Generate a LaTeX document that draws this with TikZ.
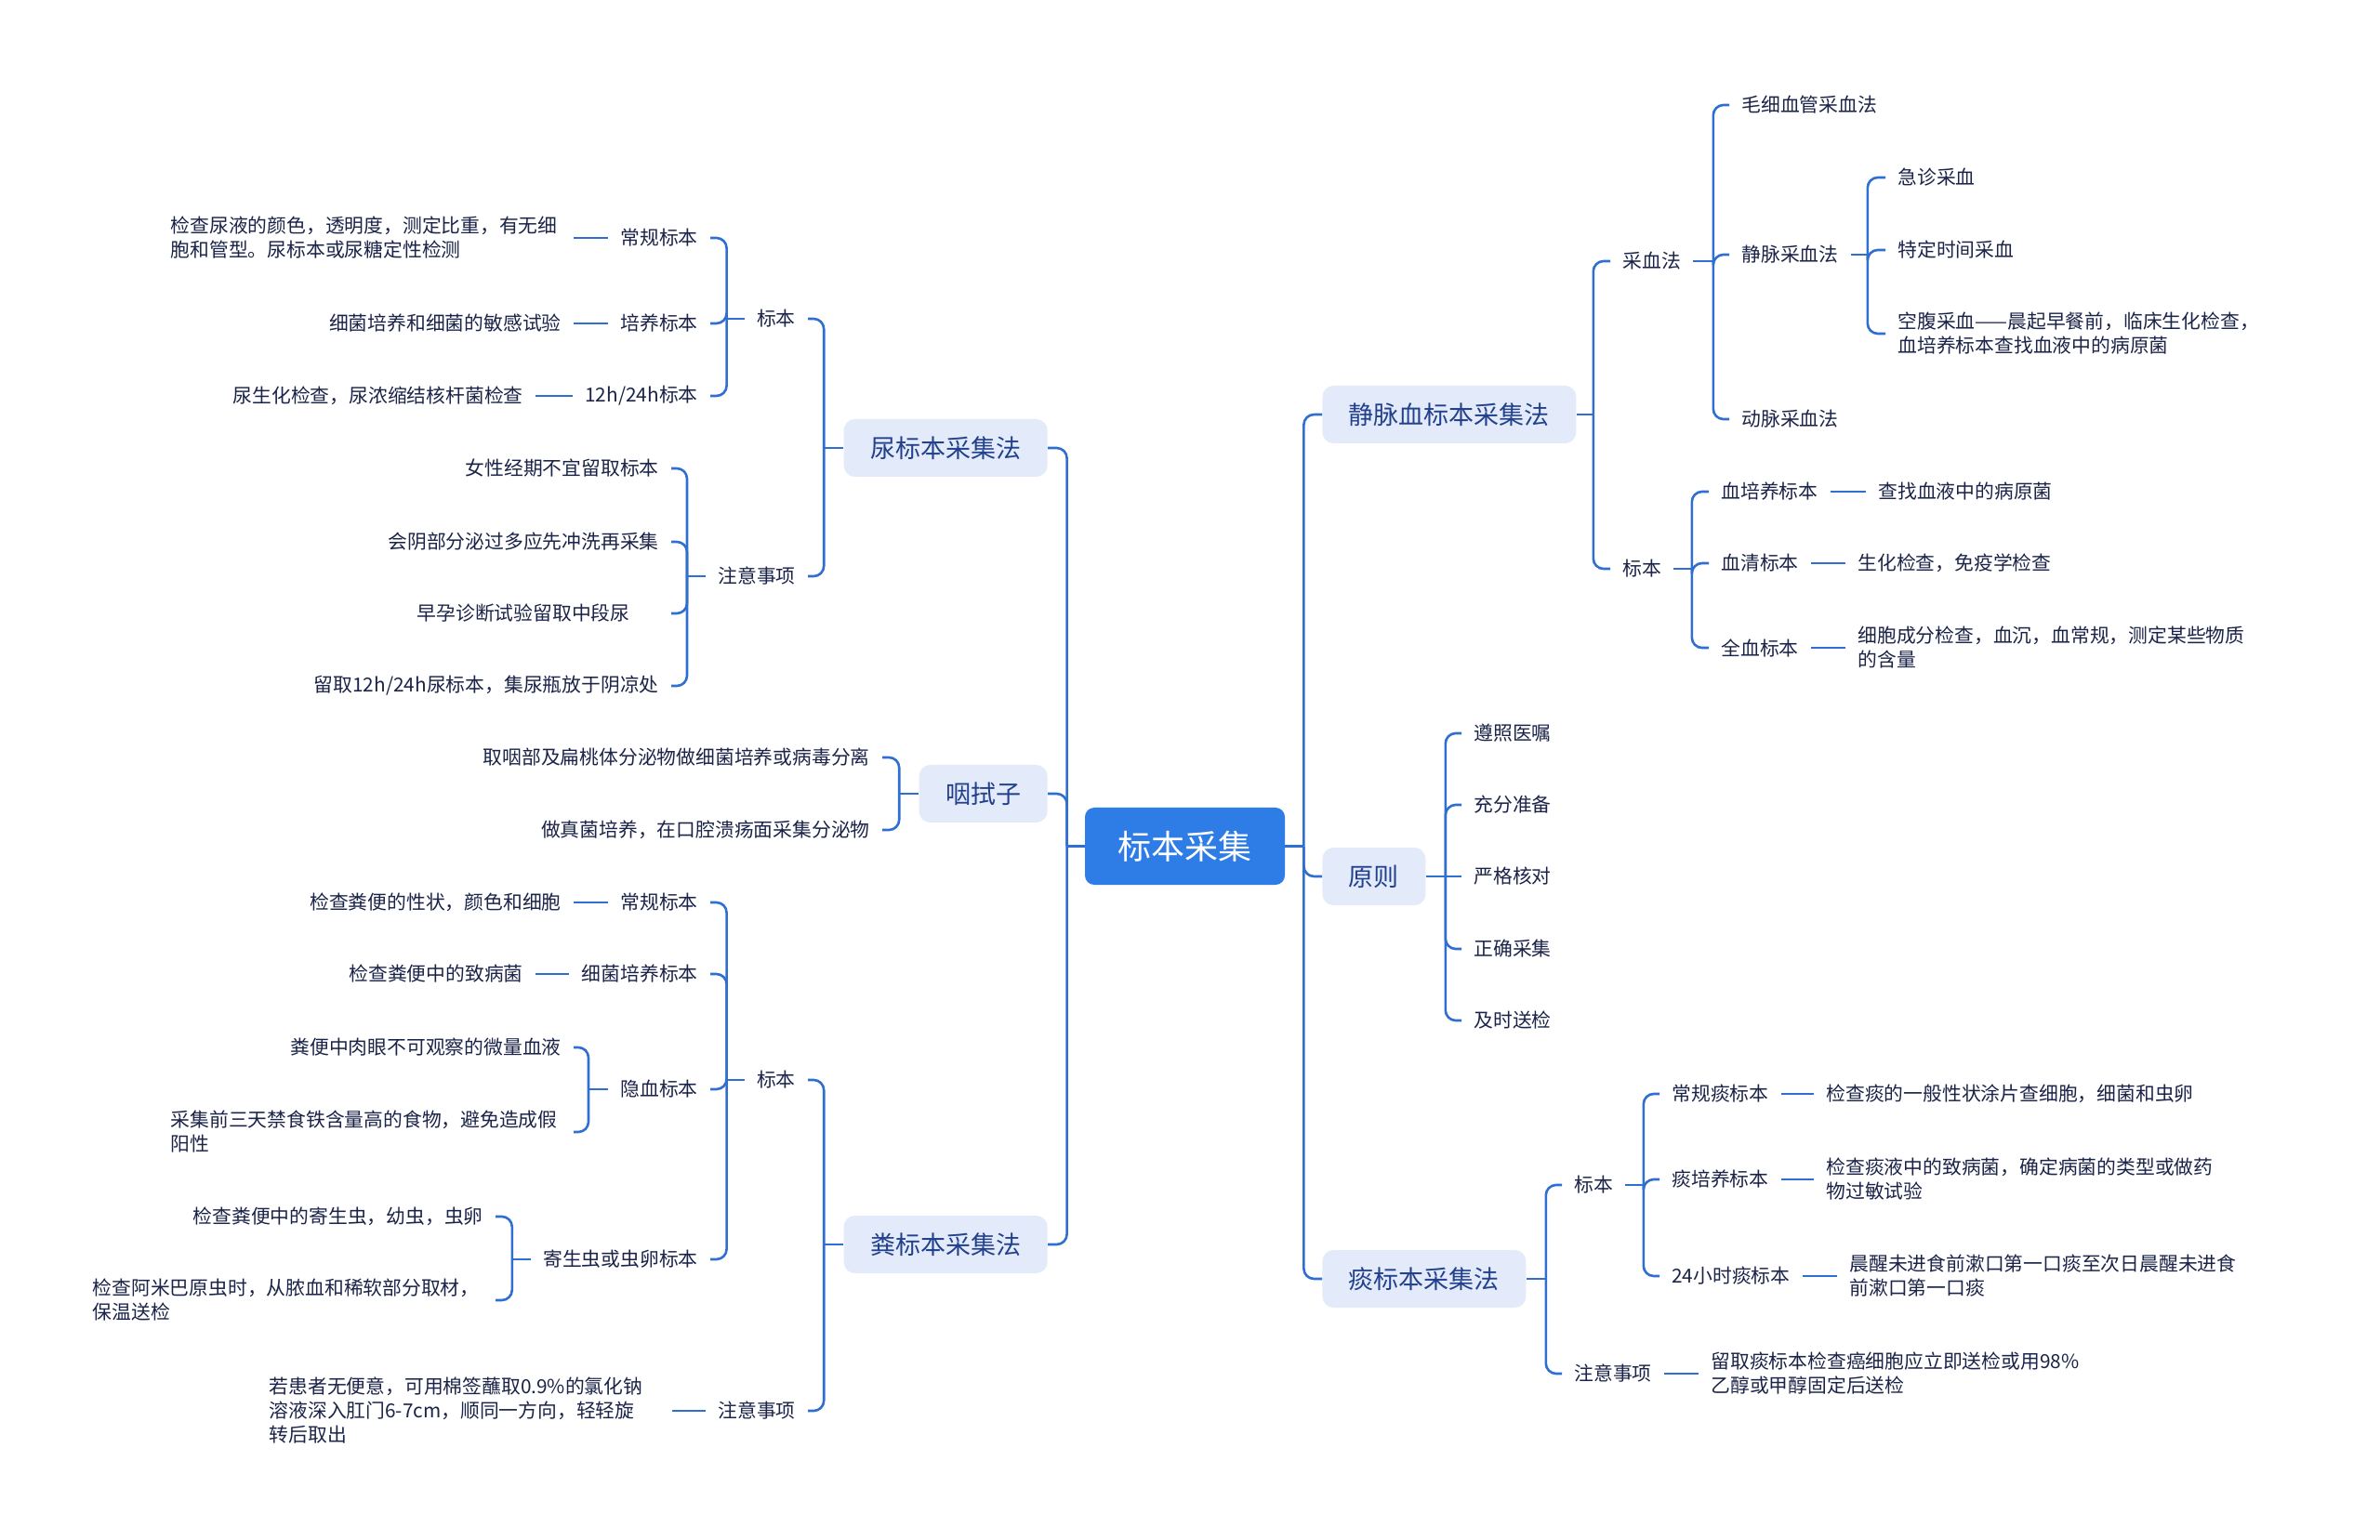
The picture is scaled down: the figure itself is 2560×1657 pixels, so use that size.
\documentclass[tikz,border=0pt]{standalone}
\usepackage{fontspec}
\setmainfont{Noto Sans CJK SC}
\definecolor{lineblue}{HTML}{2F6FD1}
\definecolor{rootc}{HTML}{2E7CE6}
\definecolor{l1fill}{HTML}{E3EBFB}
\definecolor{l1txt}{HTML}{22408C}
\definecolor{txtc}{HTML}{1B2448}
\tikzset{
 conn/.style={draw=lineblue, line width=1.3pt},
 rnd/.style={rounded corners=5.5pt},
 tx/.style={font=\fontsize{10.4}{13}\selectfont, text=txtc, inner xsep=6.5pt, inner ysep=2pt},
 txw/.style={tx, text width=210pt, align=left},
 lone/.style={fill=l1fill, rounded corners=6pt, text=l1txt, font=\fontsize{13.5}{16}\selectfont, inner xsep=14.25pt, minimum height=31pt},
 rootn/.style={fill=rootc, rounded corners=5pt, text=white, font=\fontsize{18}{22}\selectfont, inner xsep=17.75pt, minimum height=41.5pt},
}
\begin{document}
\begin{tikzpicture}[x=0.5pt,y=-0.5pt]
\fill[white] (0,0) rectangle (2560,1657);
\useasboundingbox (0,0) rectangle (2560,1657);

\node[rootn] (root) at (1274.5,910.5) {标本采集};

% level 1
\node[lone,anchor=east] (u) at (1127,482) {尿标本采集法};
\node[lone,anchor=east] (y) at (1127,854) {咽拭子};
\node[lone,anchor=east] (f) at (1127,1339) {粪标本采集法};
\node[lone,anchor=west] (v) at (1422,446) {静脉血标本采集法};
\node[lone,anchor=west] (p) at (1422,943) {原则};
\node[lone,anchor=west] (s) at (1422,1376) {痰标本采集法};

\draw[conn] (root.west) -- ++(-19,0) coordinate (jl);
\foreach \n in {u,y,f} \draw[conn,rnd] (jl) |- (\n.east);
\draw[conn] (root.east) -- ++(20,0) coordinate (jr);
\foreach \n in {v,p,s} \draw[conn,rnd] (jr) |- (\n.west);

% ===== 尿标本采集法
\node[tx,anchor=east] (ub) at (869,343) {标本};
\node[tx,anchor=east] (uz) at (869,620) {注意事项};
\draw[conn] (u.west) -- ++(-21,0) coordinate (ju);
\foreach \n in {ub,uz} \draw[conn,rnd] (ju) |- (\n.east);

\node[tx,anchor=east] (ub1) at (764,256) {常规标本};
\node[tx,anchor=east] (ub2) at (764,348) {培养标本};
\node[tx,anchor=east] (ub3) at (764,426) {12h/24h标本};
\draw[conn] (ub.west) -- ++(-19,0) coordinate (jub);
\foreach \n in {ub1,ub2,ub3} \draw[conn,rnd] (jub) |- (\n.east);

\node[txw,anchor=east] (ub1l) at (617,256) {检查尿液的颜色，透明度，测定比重，有无细\\胞和管型。尿标本或尿糖定性检测};
\node[tx,anchor=east] (ub2l) at (617,348) {细菌培养和细菌的敏感试验};
\node[tx,anchor=east] (ub3l) at (576,426) {尿生化检查，尿浓缩结核杆菌检查};
\draw[conn] (ub1.west) -- (ub1l.east);
\draw[conn] (ub2.west) -- (ub2l.east);
\draw[conn] (ub3.west) -- (ub3l.east);

\node[tx,anchor=east] (uz1) at (722,504) {女性经期不宜留取标本};
\node[tx,anchor=east] (uz2) at (722,583) {会阴部分泌过多应先冲洗再采集};
\node[tx,anchor=east,text width=130pt,align=left] (uz3) at (722,660) {早孕诊断试验留取中段尿};
\node[tx,anchor=east] (uz4) at (722,738) {留取12h/24h尿标本，集尿瓶放于阴凉处};
\draw[conn] (uz.west) -- ++(-20,0) coordinate (juz);
\foreach \n in {uz1,uz2,uz3,uz4} \draw[conn,rnd] (juz) |- (\n.east);

% ===== 咽拭子
\node[tx,anchor=east] (y1) at (949,815) {取咽部及扁桃体分泌物做细菌培养或病毒分离};
\node[tx,anchor=east] (y2) at (949,893) {做真菌培养，在口腔溃疡面采集分泌物};
\draw[conn] (y.west) -- ++(-21,0) coordinate (jy);
\foreach \n in {y1,y2} \draw[conn,rnd] (jy) |- (\n.east);

% ===== 粪标本采集法
\node[tx,anchor=east] (fb) at (869,1162) {标本};
\node[tx,anchor=east] (fz) at (869,1518) {注意事项};
\draw[conn] (f.west) -- ++(-21,0) coordinate (jf);
\foreach \n in {fb,fz} \draw[conn,rnd] (jf) |- (\n.east);

\node[tx,anchor=east] (fb1) at (764,971) {常规标本};
\node[tx,anchor=east] (fb2) at (764,1048) {细菌培养标本};
\node[tx,anchor=east] (fb3) at (764,1172) {隐血标本};
\node[tx,anchor=east] (fb4) at (764,1355) {寄生虫或虫卵标本};
\draw[conn] (fb.west) -- ++(-19,0) coordinate (jfb);
\foreach \n in {fb1,fb2,fb3,fb4} \draw[conn,rnd] (jfb) |- (\n.east);

\node[tx,anchor=east] (fb1l) at (617,971) {检查粪便的性状，颜色和细胞};
\node[tx,anchor=east] (fb2l) at (576,1048) {检查粪便中的致病菌};
\draw[conn] (fb1.west) -- (fb1l.east);
\draw[conn] (fb2.west) -- (fb2l.east);

\node[tx,anchor=east] (fb3a) at (617,1127) {粪便中肉眼不可观察的微量血液};
\node[txw,anchor=east] (fb3b) at (617,1218) {采集前三天禁食铁含量高的食物，避免造成假\\阳性};
\draw[conn] (fb3.west) -- ++(-21,0) coordinate (jfb3);
\foreach \n in {fb3a,fb3b} \draw[conn,rnd] (jfb3) |- (\n.east);

\node[tx,anchor=east] (fb4a) at (533,1309) {检查粪便中的寄生虫，幼虫，虫卵};
\node[txw,anchor=east] (fb4b) at (533,1399) {检查阿米巴原虫时，从脓血和稀软部分取材，\\保温送检};
\draw[conn] (fb4.west) -- ++(-20,0) coordinate (jfb4);
\foreach \n in {fb4a,fb4b} \draw[conn,rnd] (jfb4) |- (\n.east);

\node[txw,anchor=east] (fzl) at (723,1518) {若患者无便意，可用棉签蘸取0.9\%的氯化钠\\溶液深入肛门6-7cm，顺同一方向，轻轻旋\\转后取出};
\draw[conn] (fz.west) -- (fzl.east);

% ===== 静脉血标本采集法
\node[tx,anchor=west] (vc) at (1732,281) {采血法};
\node[tx,anchor=west] (vb) at (1732,612) {标本};
\draw[conn] (v.east) -- ++(18,0) coordinate (jv);
\foreach \n in {vc,vb} \draw[conn,rnd] (jv) |- (\n.west);

\node[tx,anchor=west] (vc1) at (1860,113) {毛细血管采血法};
\node[tx,anchor=west] (vc2) at (1860,274) {静脉采血法};
\node[tx,anchor=west] (vc3) at (1860,451) {动脉采血法};
\draw[conn] (vc.east) -- ++(21.6,0) coordinate (jvc);
\foreach \n in {vc1,vc2,vc3} \draw[conn,rnd] (jvc) |- (\n.west);

\node[tx,anchor=west] (vc2a) at (2028,191) {急诊采血};
\node[tx,anchor=west] (vc2b) at (2028,269) {特定时间采血};
\node[txw,anchor=west] (vc2c) at (2028,359) {空腹采血——晨起早餐前，临床生化检查，\\血培养标本查找血液中的病原菌};
\draw[conn] (vc2.east) -- ++(18,0) coordinate (jvc2);
\foreach \n in {vc2a,vc2b,vc2c} \draw[conn,rnd] (jvc2) |- (\n.west);

\node[tx,anchor=west] (vb1) at (1838,529) {血培养标本};
\node[tx,anchor=west] (vb2) at (1838,606) {血清标本};
\node[tx,anchor=west] (vb3) at (1838,697) {全血标本};
\draw[conn] (vb.east) -- ++(19.4,0) coordinate (jvb);
\foreach \n in {vb1,vb2,vb3} \draw[conn,rnd] (jvb) |- (\n.west);

\node[tx,anchor=west] (vb1l) at (2007,529) {查找血液中的病原菌};
\node[tx,anchor=west] (vb2l) at (1985,606) {生化检查，免疫学检查};
\node[txw,anchor=west] (vb3l) at (1985,697) {细胞成分检查，血沉，血常规，测定某些物质\\的含量};
\draw[conn] (vb1.east) -- (vb1l.west);
\draw[conn] (vb2.east) -- (vb2l.west);
\draw[conn] (vb3.east) -- (vb3l.west);

% ===== 原则
\node[tx,anchor=west] (p1) at (1572,789) {遵照医嘱};
\node[tx,anchor=west] (p2) at (1572,866) {充分准备};
\node[tx,anchor=west] (p3) at (1572,943) {严格核对};
\node[tx,anchor=west] (p4) at (1572,1021) {正确采集};
\node[tx,anchor=west] (p5) at (1572,1098) {及时送检};
\draw[conn] (p.east) -- ++(21,0) coordinate (jp);
\foreach \n in {p1,p2,p4,p5} \draw[conn,rnd] (jp) |- (\n.west);
\draw[conn] (jp) -- (p3.west);

% ===== 痰标本采集法
\node[tx,anchor=west] (sb) at (1680,1275) {标本};
\node[tx,anchor=west] (sz) at (1680,1478) {注意事项};
\draw[conn] (s.east) -- ++(21,0) coordinate (js);
\foreach \n in {sb,sz} \draw[conn,rnd] (js) |- (\n.west);

\node[tx,anchor=west] (sb1) at (1785,1177) {常规痰标本};
\node[tx,anchor=west] (sb2) at (1785,1269) {痰培养标本};
\node[tx,anchor=west] (sb3) at (1785,1373) {24小时痰标本};
\draw[conn] (sb.east) -- ++(19.4,0) coordinate (jsb);
\foreach \n in {sb1,sb2,sb3} \draw[conn,rnd] (jsb) |- (\n.west);

\node[tx,anchor=west] (sb1l) at (1951,1177) {检查痰的一般性状涂片查细胞，细菌和虫卵};
\node[txw,anchor=west] (sb2l) at (1951,1269) {检查痰液中的致病菌，确定病菌的类型或做药\\物过敏试验};
\node[txw,anchor=west] (sb3l) at (1976,1373) {晨醒未进食前漱口第一口痰至次日晨醒未进食\\前漱口第一口痰};
\draw[conn] (sb1.east) -- (sb1l.west);
\draw[conn] (sb2.east) -- (sb2l.west);
\draw[conn] (sb3.east) -- (sb3l.west);

\node[txw,anchor=west] (szl) at (1827,1478) {留取痰标本检查癌细胞应立即送检或用98\%\\乙醇或甲醇固定后送检};
\draw[conn] (sz.east) -- (szl.west);
\end{tikzpicture}
\end{document}
